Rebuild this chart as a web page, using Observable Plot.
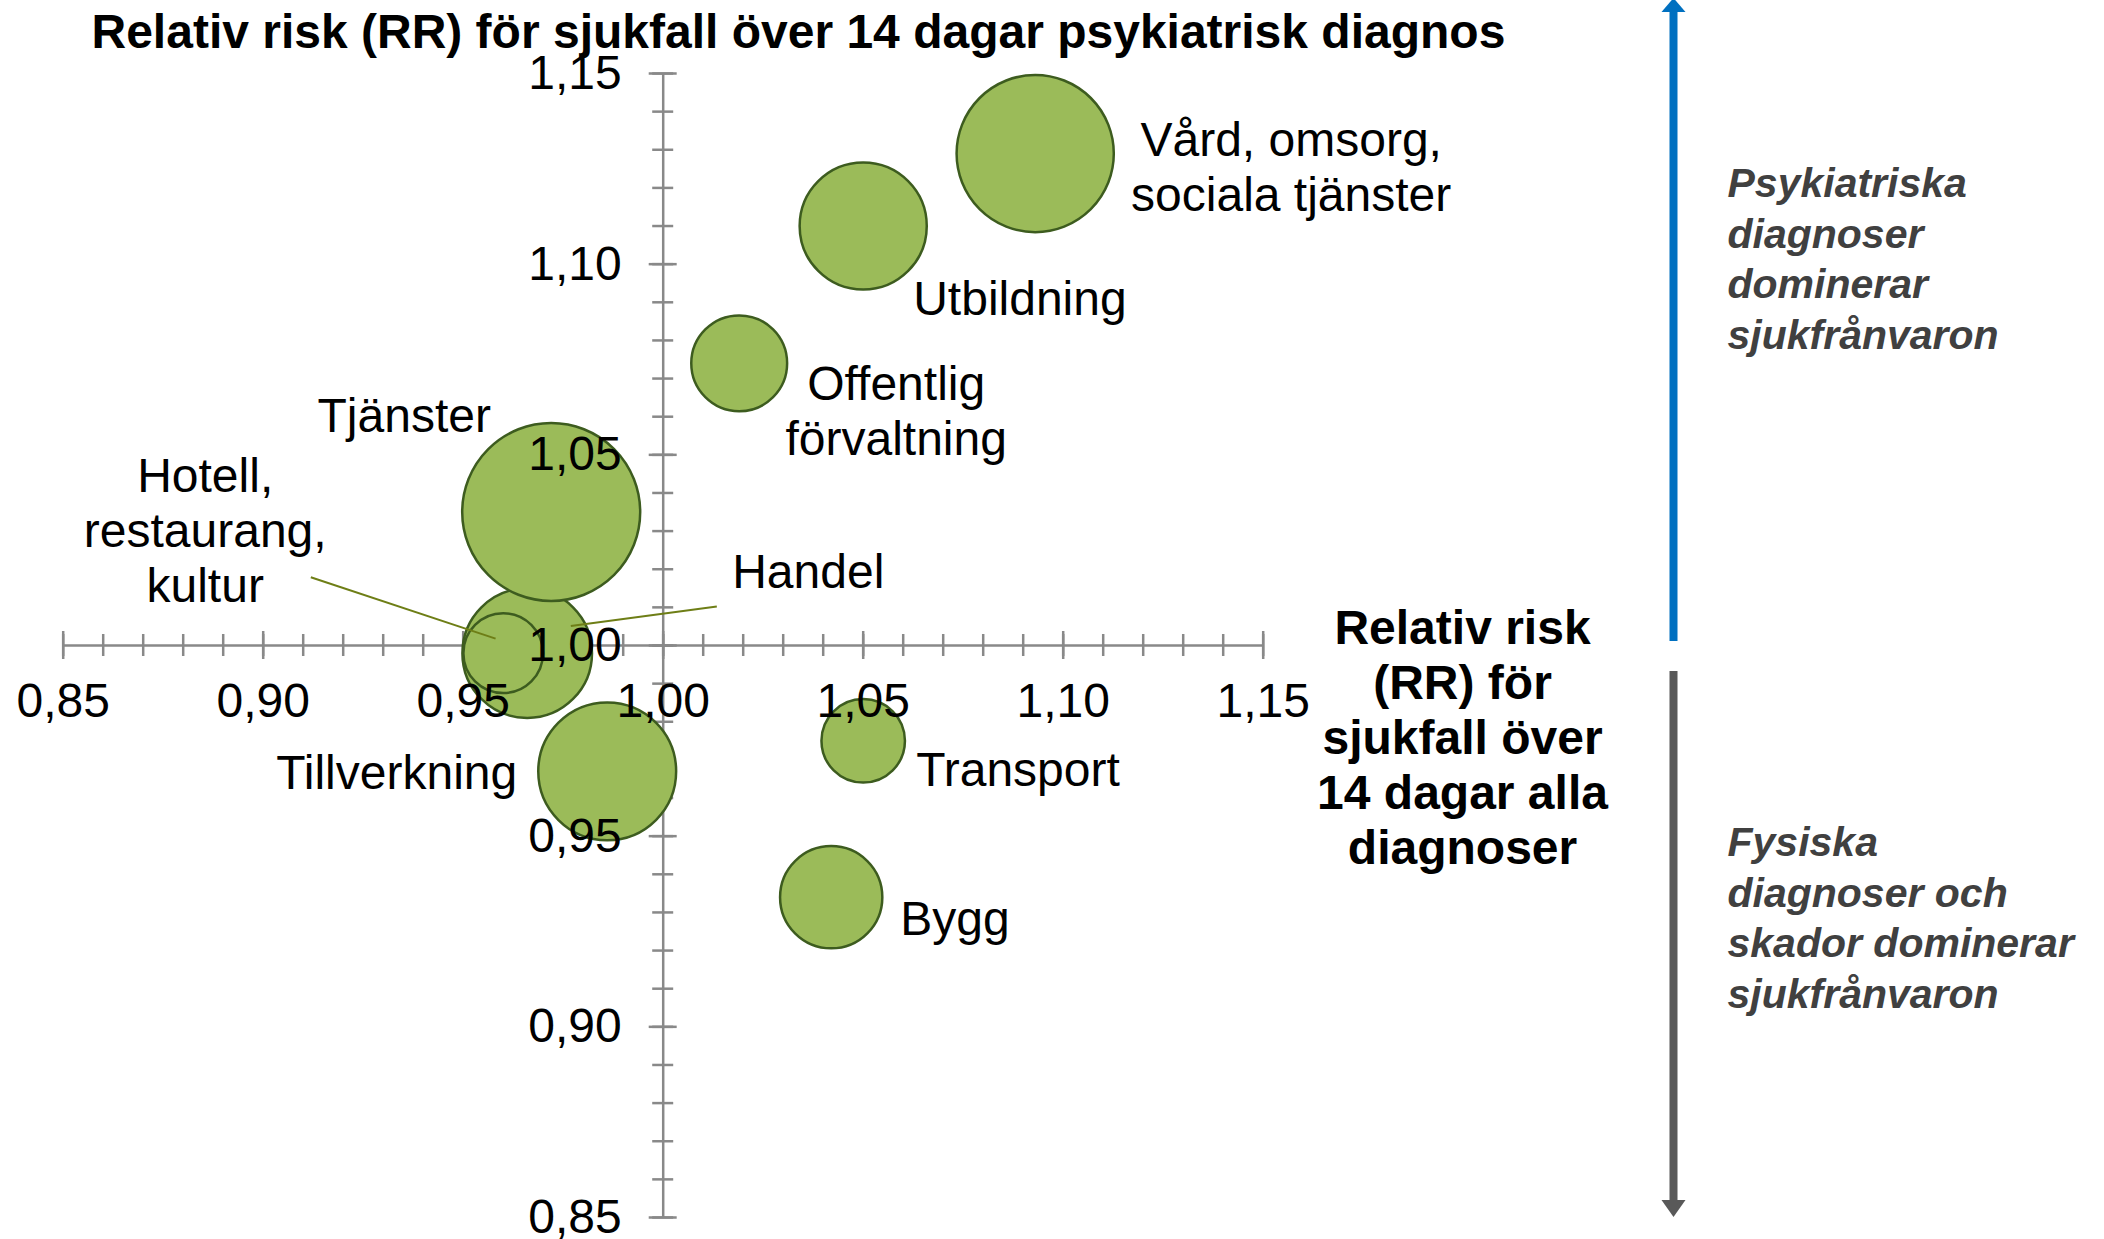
<!DOCTYPE html>
<html><head><meta charset="utf-8">
<script src="https://cdn.jsdelivr.net/npm/d3@7"></script>
<script src="https://cdn.jsdelivr.net/npm/@observablehq/plot@0.6"></script>
<style>
html,body{margin:0;padding:0;background:#fff;overflow:hidden;}
#chart{position:relative;width:2104px;height:1239px;}
</style></head><body><div id="chart"></div>
<script>
// ---- data ----
const branscher = ["Handel", "Hotell, restaurang, kultur", "Tjänster", "Tillverkning",
  "Vård, omsorg, sociala tjänster", "Utbildning", "Offentlig förvaltning", "Transport", "Bygg"];
const etiketter = ["Handel", "Hotell,\nrestaurang,\nkultur", "Tjänster", "Tillverkning",
  "Vård, omsorg,\nsociala tjänster", "Utbildning", "Offentlig\nförvaltning", "Transport", "Bygg"];
// RR för sjukfall över 14 dagar, alla diagnoser (x)
const rrAllaDiagnoser = [0.966, 0.960, 0.972, 0.986, 1.093, 1.050, 1.019, 1.050, 1.042];
// RR för sjukfall över 14 dagar, psykiatrisk diagnos (y)
const rrPsykiatrisk = [0.998, 0.998, 1.035, 0.967, 1.129, 1.110, 1.074, 0.975, 0.934];
// relativ bubbelstorlek (area)
const storlek = [53, 20, 100, 60, 78, 51, 29, 22, 33];

const tickVarden = [0.85, 0.90, 0.95, 1.00, 1.05, 1.10, 1.15];
const tickEtiketter = ["0,85", "0,90", "0,95", "1,00", "1,05", "1,10", "1,15"];
const delTickVarden = d3.range(85, 116).map(i => i / 100);

// leader lines for labels (data units)
const ledare = [
  {bransch: "Hotell, restaurang, kultur", x1: 0.9119, y1: 1.0179, x2: 0.9581, y2: 1.0018},
  {bransch: "Handel", x1: 1.0134, y1: 1.0102, x2: 0.9769, y2: 1.0051}
];

const titel = "Relativ risk (RR) för sjukfall över 14 dagar psykiatrisk diagnos";
const xTitel = "Relativ risk\n(RR) för\nsjukfall över\n14 dagar alla\ndiagnoser";
const psykText = "Psykiatriska\ndiagnoser\ndominerar\nsjukfrånvaron";
const fysText = "Fysiska\ndiagnoser och\nskador dominerar\nsjukfrånvaron";

// ---- layout / style ----
const etikettLayout = {
  "Handel": {dx: 205, dy: -83, anchor: "start"},
  "Hotell, restaurang, kultur": {dx: -298, dy: -124, anchor: "middle"},
  "Tjänster": {dx: -147, dy: -98, anchor: "middle"},
  "Tillverkning": {dx: -90, dy: 0, anchor: "end"},
  "Vård, omsorg, sociala tjänster": {dx: 256, dy: 12, anchor: "middle"},
  "Utbildning": {dx: 50, dy: 71, anchor: "start"},
  "Offentlig förvaltning": {dx: 157, dy: 47, anchor: "middle"},
  "Transport": {dx: 53, dy: 28, anchor: "start"},
  "Bygg": {dx: 69, dy: 20, anchor: "start"}
};

const data = branscher.map((b, i) => ({
  bransch: b, label: etiketter[i], x: rrAllaDiagnoser[i], y: rrPsykiatrisk[i], size: storlek[i]
}));

const W = 2104, H = 1239;
const xLeft = 62.7, xRight = 1262.7, yTop = 73, yBottom = 1217;
const font = '"Liberation Sans", Arial, Helvetica, sans-serif';
const axisColor = "#898989";
const fs = 48;

const labelMarks = data.map(d => {
  const L = etikettLayout[d.bransch];
  return Plot.text([d], {x: "x", y: "y", text: "label", dx: L.dx, dy: L.dy, textAnchor: L.anchor,
    lineAnchor: "middle", fontSize: fs, fill: "#000", lineHeight: 55 / fs});
});

const plot = Plot.plot({
  width: W, height: H,
  marginLeft: xLeft, marginRight: W - xRight, marginTop: yTop, marginBottom: H - yBottom,
  style: {fontFamily: font, background: "#fff", overflow: "visible"},
  x: {domain: [0.85, 1.15], axis: null},
  y: {domain: [0.85, 1.15], axis: null},
  r: {type: "sqrt", domain: [0, 100], range: [0, 89]},
  marks: [
    // axis lines crossing at 1,00
    Plot.ruleY([1], {x1: 0.85, x2: 1.15, stroke: axisColor, strokeWidth: 2.5}),
    Plot.ruleX([1], {y1: 0.85, y2: 1.15, stroke: axisColor, strokeWidth: 2.5}),
    // minor ticks
    Plot.ruleX(delTickVarden, {x: d => d, y1: 1, y2: 1, insetTop: -11, insetBottom: -11, stroke: axisColor, strokeWidth: 2.5}),
    Plot.ruleY(delTickVarden, {y: d => d, x1: 1, x2: 1, insetLeft: -10.5, insetRight: -10.5, stroke: axisColor, strokeWidth: 2.5}),
    // major ticks
    Plot.ruleX(tickVarden, {x: d => d, y1: 1, y2: 1, insetTop: -14, insetBottom: -14, stroke: axisColor, strokeWidth: 2.5}),
    Plot.ruleY(tickVarden, {y: d => d, x1: 1, x2: 1, insetLeft: -14, insetRight: -14, stroke: axisColor, strokeWidth: 2.5}),
    // bubbles
    Plot.dot(data, {x: "x", y: "y", r: "size", fill: "#9BBB59", stroke: "#3D5C1F", strokeWidth: 2.5, sort: null}),
    // leader lines
    Plot.link(ledare, {x1: "x1", y1: "y1", x2: "x2", y2: "y2", stroke: "#6E7E16", strokeWidth: 2}),
    // tick labels
    Plot.text(tickVarden, {x: d => d, y: 1, text: (d, i) => tickEtiketter[i], dy: 56, fontSize: fs, fill: "#000"}),
    Plot.text(tickVarden, {x: 1, y: d => d, text: (d, i) => tickEtiketter[i], dx: -41.5, textAnchor: "end", fontSize: fs, fill: "#000"}),
    // category labels
    ...labelMarks,
    // titles
    Plot.text([titel], {frameAnchor: "top-left", dx: 91 - xLeft, dy: 32 - yTop, textAnchor: "start",
      lineAnchor: "middle", fontSize: 48, fontWeight: "bold", fill: "#000"}),
    Plot.text([xTitel], {frameAnchor: "top-left", dx: 1462 - xLeft, dy: 736 - yTop, textAnchor: "middle",
      lineAnchor: "middle", fontSize: 48, fontWeight: "bold", fill: "#000", lineHeight: 55 / 48}),
    Plot.text([psykText], {frameAnchor: "top-left", dx: 1727 - xLeft, dy: 256.5 - yTop, textAnchor: "start",
      lineAnchor: "middle", fontSize: 41, fontWeight: "bold", fontStyle: "italic", fill: "#404040", lineHeight: 50.5 / 41}),
    Plot.text([fysText], {frameAnchor: "top-left", dx: 1727 - xLeft, dy: 915.5 - yTop, textAnchor: "start",
      lineAnchor: "middle", fontSize: 41, fontWeight: "bold", fontStyle: "italic", fill: "#404040", lineHeight: 50.5 / 41})
  ]
});

document.getElementById("chart").appendChild(plot);

// decorative direction arrows at the right
const svg = d3.select(plot);
const ax = 1673.5;
svg.append("line").attr("x1", ax).attr("x2", ax).attr("y1", 10).attr("y2", 641)
  .attr("stroke", "#0070C0").attr("stroke-width", 8);
svg.append("polygon").attr("points", `${ax - 12},12 ${ax + 12},12 ${ax},-2`).attr("fill", "#0070C0");
svg.append("line").attr("x1", ax).attr("x2", ax).attr("y1", 671).attr("y2", 1202)
  .attr("stroke", "#595959").attr("stroke-width", 8);
svg.append("polygon").attr("points", `${ax - 12},1200 ${ax + 12},1200 ${ax},1217`).attr("fill", "#595959");
</script>
</body></html>
